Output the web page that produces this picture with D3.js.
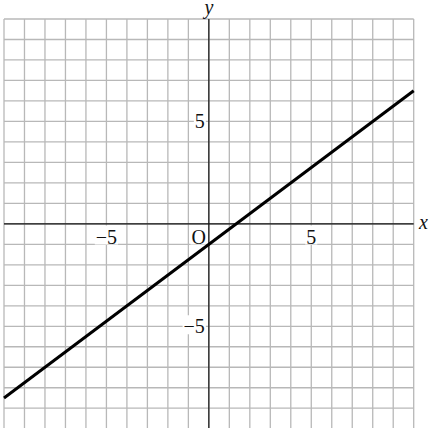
<!DOCTYPE html>
<html>
<head>
<meta charset="utf-8">
<script src="https://cdn.jsdelivr.net/npm/d3@7"></script>
<style>
  html, body { margin: 0; padding: 0; background: #fff; }
  svg { display: block; }
  text { font-family: "Liberation Serif", "DejaVu Serif", serif; }
</style>
</head>
<body>
<div id="chart"></div>
<script>
// data
const xDomain = [-10, 10]
const yDomain = [-10, 10]
const gridValues = d3.range(-10, 11)
const xTickLabels = [-5, 5]
const yTickLabels = [5, -5]
const lineX = [-10, 10]
const lineY = [-8.5, 6.5]

const width = 434
const height = 428

const svg = d3.select('#chart')
    .append('svg')
    .attr('width', width)
    .attr('height', height)

const xScale = d3.scaleLinear()
    .domain(xDomain)
    .range([4, 413.7])

const yScale = d3.scaleLinear()
    .domain(yDomain)
    .range([428.7, 19])

const ctr = svg.append('g')

// grid
const grid = ctr.append('g')
    .attr('stroke', '#b8b8b8')
    .attr('stroke-width', 1.3)

grid.selectAll('line.v')
    .data(gridValues)
    .join('line')
    .attr('class', 'v')
    .attr('x1', (d) => xScale(d))
    .attr('x2', (d) => xScale(d))
    .attr('y1', yScale(10))
    .attr('y2', yScale(-10))

grid.selectAll('line.h')
    .data(gridValues)
    .join('line')
    .attr('class', 'h')
    .attr('y1', (d) => yScale(d))
    .attr('y2', (d) => yScale(d))
    .attr('x1', xScale(-10))
    .attr('x2', xScale(10))

const fmt = (d) => d < 0 ? '\u2212' + Math.abs(d) : String(d)

const labels = ctr.append('g')

const addLabel = (txt, x, y, anchor, style) => {
    const t = labels.append('text')
        .attr('x', x)
        .attr('y', y)
        .attr('text-anchor', anchor)
        .attr('font-size', 20)
        .attr('fill', '#111')
        .text(txt)
    if (style) t.attr('font-style', style)
    return t
}

const bgs = []
xTickLabels.forEach((d) => bgs.push(addLabel(fmt(d), xScale(d), 243.5, 'middle')))
yTickLabels.forEach((d) => bgs.push(addLabel(fmt(d), xScale(0) - 4, yScale(d) + 7, 'end')))
bgs.push(addLabel('O', xScale(0) - 3, 243.5, 'end'))

// white boxes behind the tick labels
bgs.forEach((t) => {
    const b = t.node().getBBox()
    const base = +t.attr('y')
    labels.insert('rect', 'text')
        .attr('x', b.x - 1)
        .attr('y', base - 18)
        .attr('width', b.width + 2)
        .attr('height', 19)
        .attr('fill', '#fff')
})

// axes
ctr.append('line')
    .attr('x1', xScale(-10))
    .attr('x2', xScale(10))
    .attr('y1', yScale(0))
    .attr('y2', yScale(0))
    .attr('stroke', '#111')
    .attr('stroke-width', 1.2)

ctr.append('line')
    .attr('x1', xScale(0))
    .attr('x2', xScale(0))
    .attr('y1', yScale(10))
    .attr('y2', yScale(-10))
    .attr('stroke', '#111')
    .attr('stroke-width', 1.2)

addLabel('x', 419, 229, 'start', 'italic')
addLabel('y', xScale(0), 14, 'middle', 'italic')

// the line
const line = d3.line()
    .x((d) => xScale(d[0]))
    .y((d) => yScale(d[1]))

ctr.append('path')
    .datum(d3.zip(lineX, lineY))
    .attr('fill', 'none')
    .attr('stroke', '#000')
    .attr('stroke-width', 3)
    .attr('d', line)
</script>
</body>
</html>
